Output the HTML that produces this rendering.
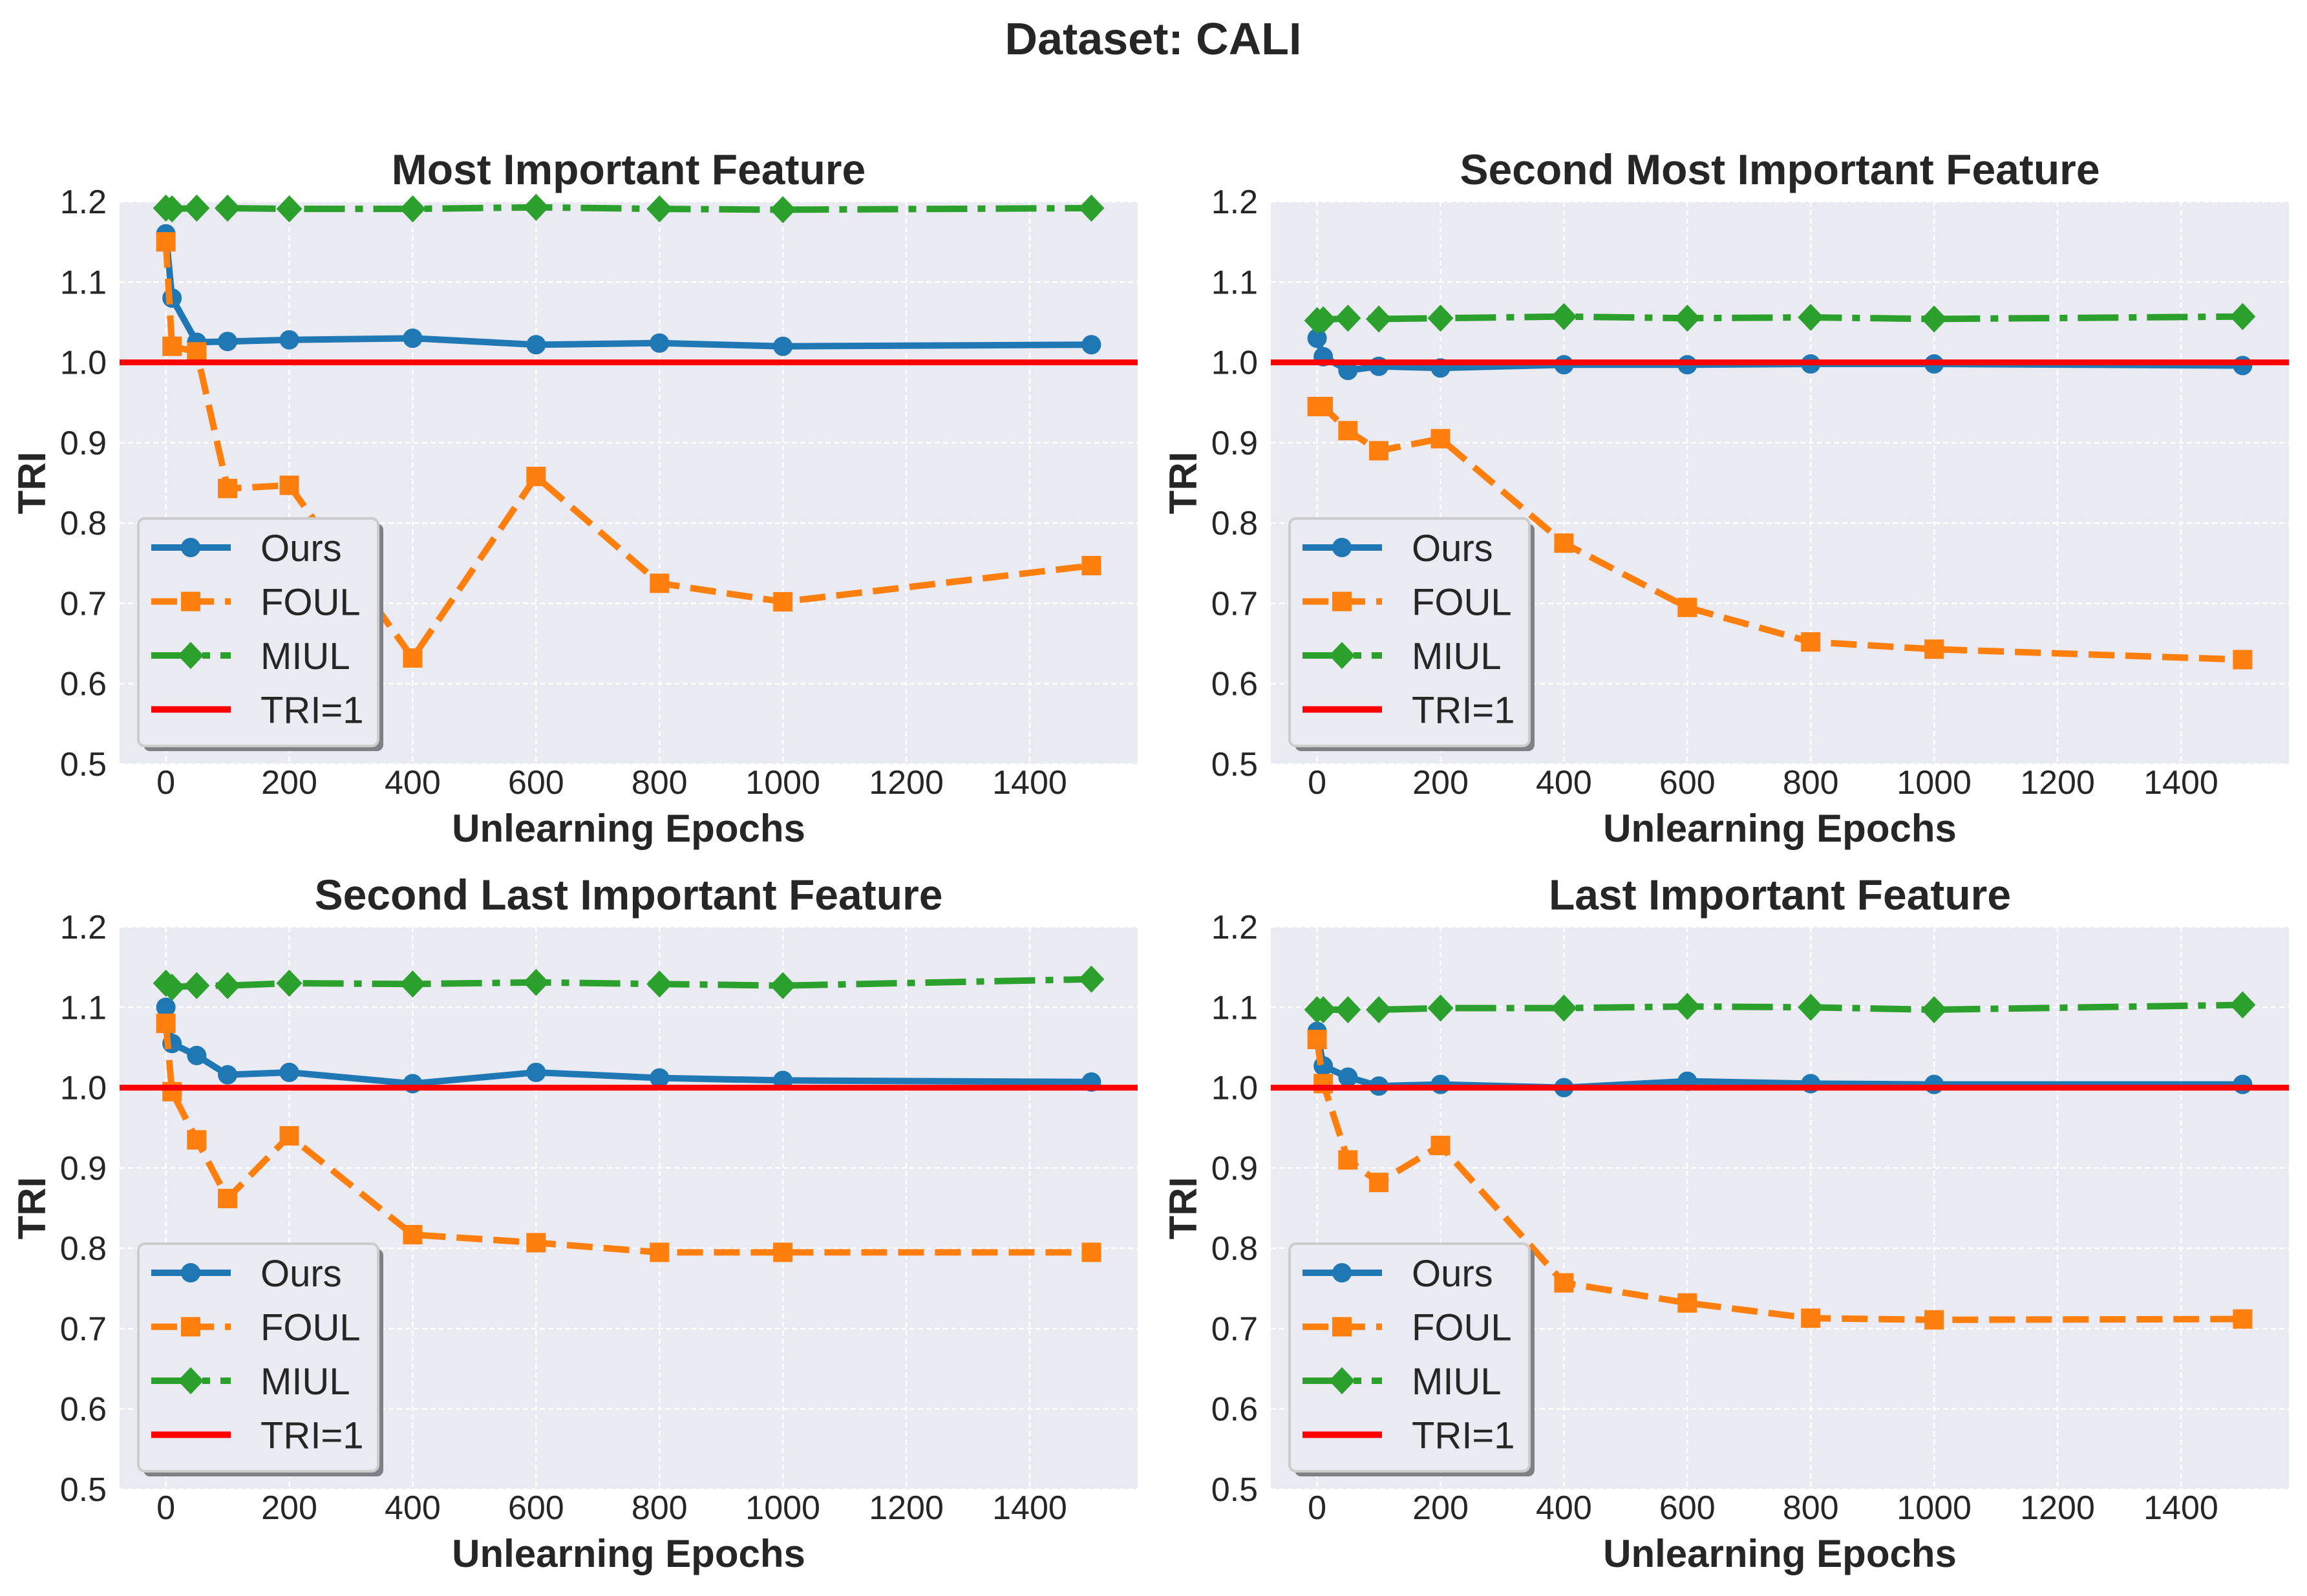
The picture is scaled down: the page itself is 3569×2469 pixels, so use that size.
<!DOCTYPE html>
<html><head><meta charset="utf-8"><style>
html,body{margin:0;padding:0;background:#fff;}
svg text{font-family:"Liberation Sans",Arial,sans-serif;fill:#262626;}
</style></head><body>
<svg id="fig" width="3569" height="2464" viewBox="0 0 3569 2464" xmlns="http://www.w3.org/2000/svg">
<text x="1784" y="84" font-size="70" font-weight="bold" text-anchor="middle">Dataset: CALI</text>
</svg>
<script>
const epochs = [0, 10, 50, 100, 200, 400, 600, 800, 1000, 1500];
const xTicks = [0, 200, 400, 600, 800, 1000, 1200, 1400];
const yTicks = [0.5, 0.6, 0.7, 0.8, 0.9, 1.0, 1.1, 1.2];
const yTickLabels = ["0.5","0.6","0.7","0.8","0.9","1.0","1.1","1.2"];
const titles = ["Most Important Feature","Second Most Important Feature","Second Last Important Feature","Last Important Feature"];
const oursP1 = [1.16, 1.08, 1.025, 1.026, 1.028, 1.03, 1.022, 1.024, 1.02, 1.022];
const foulP1 = [1.15, 1.02, 1.013, 0.843, 0.847, 0.632, 0.858, 0.725, 0.702, 0.747];
const miulP1 = [1.192, 1.191, 1.192, 1.192, 1.191, 1.191, 1.193, 1.191, 1.19, 1.192];
const oursP2 = [1.03, 1.007, 0.99, 0.995, 0.993, 0.997, 0.997, 0.998, 0.998, 0.996];
const foulP2 = [0.945, 0.945, 0.915, 0.89, 0.905, 0.775, 0.695, 0.652, 0.643, 0.63];
const miulP2 = [1.052, 1.053, 1.055, 1.054, 1.055, 1.057, 1.055, 1.056, 1.054, 1.057];
const oursP3 = [1.1, 1.055, 1.04, 1.016, 1.019, 1.005, 1.019, 1.012, 1.009, 1.007];
const foulP3 = [1.08, 0.995, 0.935, 0.862, 0.94, 0.817, 0.807, 0.795, 0.795, 0.795];
const miulP3 = [1.13, 1.125, 1.127, 1.127, 1.13, 1.129, 1.131, 1.129, 1.127, 1.135];
const oursP4 = [1.07, 1.027, 1.013, 1.002, 1.004, 1.0, 1.008, 1.005, 1.004, 1.004];
const foulP4 = [1.06, 1.005, 0.91, 0.882, 0.928, 0.757, 0.732, 0.713, 0.711, 0.712];
const miulP4 = [1.097, 1.097, 1.097, 1.097, 1.099, 1.099, 1.101, 1.1, 1.097, 1.103];
const refValue = 1.0;

const NS="http://www.w3.org/2000/svg";
const svg=document.getElementById('fig');
function mk(tag,attrs,parent){const e=document.createElementNS(NS,tag);for(const k in attrs)e.setAttribute(k,attrs[k]);(parent||svg).appendChild(e);return e;}

const panels=[
 {L:185,T:312,ours:oursP1,foul:foulP1,miul:miulP1},
 {L:1966,T:312,ours:oursP2,foul:foulP2,miul:miulP2},
 {L:185,T:1434,ours:oursP3,foul:foulP3,miul:miulP3},
 {L:1966,T:1434,ours:oursP4,foul:foulP4,miul:miulP4}
];
const W=1575,H=870,XMIN=-75,XMAX=1575,YMIN=0.5,YMAX=1.2;
const C={ours:'#1f77b4',foul:'#ff7f0e',miul:'#2ca02c',ref:'#ff0000'};
const DASH={ours:'',foul:'40 17',miul:'63 16 12 16'};

function marker(g,kind,x,y,color){
  let m;
  if(kind==='o'){m=mk('circle',{cx:x,cy:y,r:15,fill:color},g);}
  else if(kind==='s'){m=mk('rect',{x:x-15,y:y-15,width:30,height:30,fill:color},g);}
  else {m=mk('polygon',{points:`${x},${y-21} ${x+20},${y} ${x},${y+21} ${x-20},${y}`,fill:color},g);}
  return m;
}

panels.forEach((p,i)=>{
  const sx=v=>p.L+(v-XMIN)/(XMAX-XMIN)*W;
  const sy=v=>p.T+(YMAX-v)/(YMAX-YMIN)*H;
  const g=mk('g',{});
  
  
  const bg=mk('rect',{x:p.L,y:p.T,width:W,height:H,fill:'#eaeaf2'},g);
  
  
  const t=mk('text',{x:p.L+W/2,y:p.T-27,'font-size':66,'font-weight':'bold','text-anchor':'middle'},g);
  t.textContent=titles[i];
  
  
  xTicks.forEach(v=>{
    const gl=mk('line',{x1:sx(v),x2:sx(v),y1:p.T,y2:p.T+H,stroke:'#fff','stroke-width':2.5,'stroke-dasharray':'8 5'},g);
    
    
    const tl=mk('text',{x:sx(v),y:p.T+H+46,'font-size':52,'text-anchor':'middle'},g);
    tl.textContent=v;
    
    
  });
  yTicks.forEach((v,k)=>{
    const gl=mk('line',{x1:p.L,x2:p.L+W,y1:sy(v),y2:sy(v),stroke:'#fff','stroke-width':2.5,'stroke-dasharray':'8 5'},g);
    
    
    const tl=mk('text',{x:p.L-20,y:sy(v)+18,'font-size':52,'text-anchor':'end'},g);
    tl.textContent=yTickLabels[k];
    
    
  });
  const xl=mk('text',{x:p.L+W/2,y:p.T+H+120,'font-size':60,'font-weight':'bold','text-anchor':'middle'},g);
  xl.textContent='Unlearning Epochs';
  
  
  const yx=p.L-115, yy=p.T+H/2;
  const yl=mk('text',{x:yx,y:yy,'font-size':60,'font-weight':'bold','text-anchor':'middle',transform:`rotate(-90 ${yx} ${yy})`},g);
  yl.textContent='TRI';
  
  

  const series=[
    {key:'ours',vals:p.ours,m:'o'},
    {key:'foul',vals:p.foul,m:'s'},
    {key:'miul',vals:p.miul,m:'d'}
  ];
  series.forEach(s=>{
    const pts=epochs.map((e,k)=>sx(e)+','+sy(s.vals[k])).join(' ');
    const a={points:pts,fill:'none',stroke:C[s.key],'stroke-width':10,'stroke-linejoin':'round'};
    if(DASH[s.key])a['stroke-dasharray']=DASH[s.key];
    const pl=mk('polyline',a,g);
    
    
    epochs.forEach((e,k)=>{
      const m=marker(g,s.m,sx(e),sy(s.vals[k]),C[s.key]);
      
      
    });
  });
  const rl=mk('line',{x1:p.L,x2:p.L+W,y1:sy(refValue),y2:sy(refValue),stroke:C.ref,'stroke-width':9},g);
  
  

  const lx=p.L+29, ly=p.T+H-380, lw=371, lh=352;
  const lg=mk('g',{},g);
  
  
  mk('rect',{x:lx+8,y:ly+8,width:lw,height:lh,rx:10,fill:'#7f7f86'},lg);
  mk('rect',{x:lx,y:ly,width:lw,height:lh,rx:10,fill:'#eaeaf2',stroke:'#cccccc','stroke-width':4},lg);
  const entries=[['Ours','ours','o'],['FOUL','foul','s'],['MIUL','miul','d'],['TRI=1','ref','']];
  entries.forEach((en,k)=>{
    const cy=ly+45+k*83.5;
    const eg=mk('g',{},lg);
    
    
    const a={x1:lx+20,x2:lx+143,y1:cy,y2:cy,stroke:C[en[1]],'stroke-width':10};
    if(DASH[en[1]])a['stroke-dasharray']=DASH[en[1]];
    mk('line',a,eg);
    if(en[2])marker(eg,en[2],lx+81,cy,C[en[1]]);
    const tx=mk('text',{x:lx+189,y:cy+21,'font-size':58},eg);
    tx.textContent=en[0];
  });
});
</script>
</body></html>
